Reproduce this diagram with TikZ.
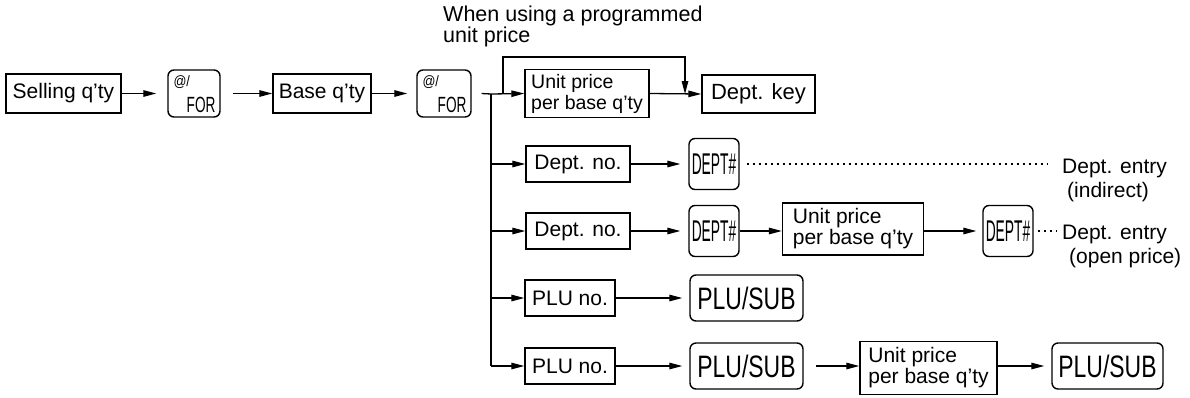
\documentclass[tikz,border=0pt]{standalone}
\usepackage{fontspec}
\setmainfont{Liberation Sans}
\usetikzlibrary{arrows.meta}
\newcommand\cond[2]{\scalebox{#1}[1]{#2}}
\begin{document}
\begin{tikzpicture}[x=1pt,y=-1pt,
  every node/.style={font=\fontsize{21}{21}\selectfont, inner sep=0pt},
  box/.style={draw, line width=1.4pt},
  twoline/.style={box, align=left},
  keybox/.style={draw, line width=1.4pt, rounded corners=6pt},
  deptkey/.style={keybox, minimum width=50, minimum height=51, font=\fontsize{30}{30}\selectfont},
  plukey/.style={keybox, minimum width=113, minimum height=46, font=\fontsize{31}{31}\selectfont},
  arr/.style={line width=1.3pt, -{Triangle[length=13pt,width=6.5pt]}},
  ln/.style={line width=1.3pt},
  dots/.style={line width=1.1pt, dash pattern=on 2.5pt off 3.5pt},
  lbl/.style={anchor=base west}]
\useasboundingbox (0,0) rectangle (1190,397);
% row 1
\node[box, minimum width=115, minimum height=39] (sq) at (63.5,93.5) {Selling q’ty};
\node[keybox, minimum width=52, minimum height=47] (f1) at (194,93.5) {};
\node[anchor=north west, font=\fontsize{15}{15}\selectfont] at ([shift={(6,6)}]f1.north west) {\cond{0.85}{@/}};
\node[anchor=south east, font=\fontsize{22}{22}\selectfont] at ([shift={(-5,-5)}]f1.south east) {\cond{0.62}{FOR}};
\node[box, minimum width=98, minimum height=39] (bq) at (322,93.5) {Base q’ty};
\node[keybox, minimum width=54, minimum height=47] (f2) at (444,93.5) {};
\node[anchor=north west, font=\fontsize{15}{15}\selectfont] at ([shift={(6,6)}]f2.north west) {\cond{0.85}{@/}};
\node[anchor=south east, font=\fontsize{22}{22}\selectfont] at ([shift={(-5,-5)}]f2.south east) {\cond{0.62}{FOR}};
\node[twoline, minimum width=124, minimum height=48, font=\fontsize{19.5}{21}\selectfont] (up1) at (587,93.5) {Unit price\\per base q’ty};
\node[box, minimum width=113, minimum height=38, font=\fontsize{22}{22}\selectfont] (dk) at (758.5,94) {Dept. key};
\node[anchor=north west, align=left, font=\fontsize{21.5}{21}\selectfont] (tw) at (443,6) {When using a programmed\\unit price};
% junction and loop
\coordinate (j1) at (491,94);
\coordinate (j5) at (491,366);
\coordinate (lp0) at (503,94);
\coordinate (lp1) at (503,57);
\coordinate (lp2) at (685,57);
\coordinate (lp3) at (685,94);
% row 2
\node[box, minimum width=104, minimum height=36] (dn1) at (578,164) {Dept. no.};
\node[deptkey] (dp1) at (714,164) {\cond{0.46}{DEPT\#}};
\node[lbl] (de1) at (1062,173) {Dept. entry};
\node[lbl] (in1) at (1067,197) {(indirect)};
% row 3
\node[box, minimum width=104, minimum height=36] (dn2) at (578,231) {Dept. no.};
\node[deptkey] (dp2) at (714,231) {\cond{0.46}{DEPT\#}};
\node[twoline, minimum width=141, minimum height=52] (up2) at (853,229) {Unit price\\per base q’ty};
\node[deptkey] (dp3) at (1008,231) {\cond{0.46}{DEPT\#}};
\node[lbl] (de2) at (1062,239) {Dept. entry};
\node[lbl] (op2) at (1069,263) {(open price)};
% row 4
\node[box, minimum width=90, minimum height=36] (pn1) at (570,298) {PLU no.};
\node[plukey] (ps1) at (746.5,298) {\cond{0.74}{PLU/SUB}};
% row 5
\node[box, minimum width=90, minimum height=36] (pn2) at (570,366) {PLU no.};
\node[plukey] (ps2) at (746.5,366) {\cond{0.74}{PLU/SUB}};
\node[twoline, minimum width=137, minimum height=53] (up3) at (928.5,368) {Unit price\\per base q’ty};
\node[plukey, minimum width=111] (ps3) at (1107.5,366) {\cond{0.74}{PLU/SUB}};
% connectors
\draw[arr] (sq.east) -- ([xshift=-11pt]f1.west);
\draw[arr] ([xshift=12pt]f1.east) -- (bq.west);
\draw[arr] (bq.east) -- ([xshift=-9pt]f2.west);
\draw[ln] ([xshift=10pt]f2.east) -- (j1);
\draw[arr] (j1) -- (up1.west);
\draw[ln] (j1) -- (j5);
\draw[arr] (lp0) -- (lp1) -- (lp2) -- (lp3);
\draw[arr] (up1.east) -- (dk.west);
\draw[arr] (j1 |- dn1.west) -- (dn1.west);
\draw[arr] (dn1.east) -- ([xshift=-8pt]dp1.west);
\draw[dots] ([xshift=7pt]dp1.east) -- ([xshift=-14pt]de1.west |- dp1.east);
\draw[arr] (j1 |- dn2.west) -- (dn2.west);
\draw[arr] (dn2.east) -- ([xshift=-8pt]dp2.west);
\draw[arr] (dp2.east) -- (up2.west |- dp2.east);
\draw[arr] (up2.east |- dp3.west) -- ([xshift=-6pt]dp3.west);
\draw[dots] ([xshift=4pt]dp3.east) -- ([xshift=-5pt]de2.west |- dp3.east);
\draw[arr] (j1 |- pn1.west) -- (pn1.west);
\draw[arr] (pn1.east) -- ([xshift=-7pt]ps1.west);
\draw[arr] (j5) -- (pn2.west);
\draw[arr] (pn2.east) -- ([xshift=-7pt]ps2.west);
\draw[arr] ([xshift=12pt]ps2.east) -- (up3.west |- ps2.east);
\draw[arr] (up3.east |- ps3.west) -- ([xshift=-7pt]ps3.west);
\end{tikzpicture}
\end{document}
